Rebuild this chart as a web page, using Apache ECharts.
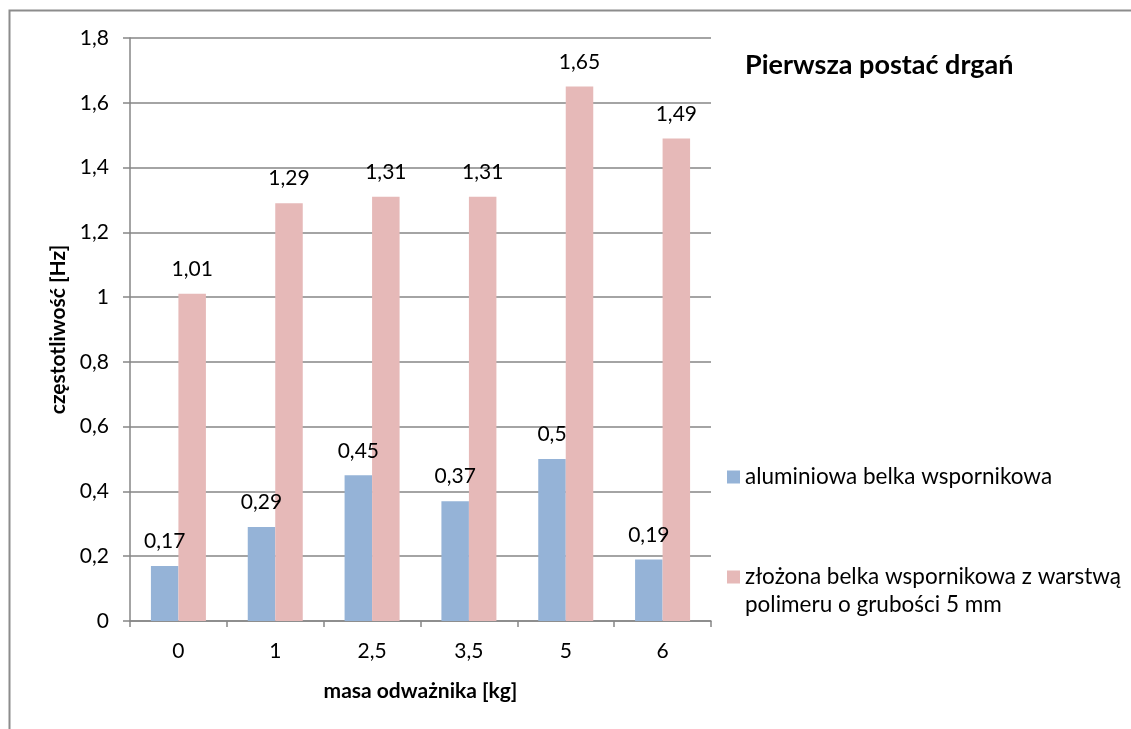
<!DOCTYPE html>
<html>
<head>
<meta charset="utf-8">
<script src="https://cdn.jsdelivr.net/npm/echarts@6/dist/echarts.min.js"></script>
<style>
html,body{margin:0;padding:0;background:#fff;}
#chart{width:1131px;height:729px;}
</style>
</head>
<body>
<div id="chart"></div>
<script>
const categories = ['0', '1', '2,5', '3,5', '5', '6'];
const seriesNames = ['aluminiowa belka wspornikowa', 'złożona belka wspornikowa z warstwą\npolimeru o grubości 5 mm'];
const aluminium = [0.17, 0.29, 0.45, 0.37, 0.5, 0.19];
const composite = [1.01, 1.29, 1.31, 1.31, 1.65, 1.49];
const titleText = 'Pierwsza postać drgań';
const xName = 'masa odważnika [kg]';
const yName = 'częstotliwość [Hz]';

const FONT = 'Lato';
const comma = v => String(v).replace('.', ',');

const chart = echarts.init(document.getElementById('chart'), null, {renderer: 'canvas'});
const labelCfg = {
  show: true, position: 'top', distance: 14,
  fontFamily: FONT, fontSize: 21, color: '#000',
  formatter: p => comma(p.value)
};
chart.setOption({
  animation: false,
  backgroundColor: '#fff',
  title: {
    text: titleText, left: 745, top: 52, padding: 0,
    textStyle: {fontFamily: FONT, fontSize: 27, fontWeight: 'bold', color: '#000'}
  },
  graphic: [{
    type: 'rect', left: 7, top: 8, silent: true,
    shape: {x: 0, y: 0, width: 1200, height: 800},
    style: {fill: 'none', stroke: '#8c8c8c', lineWidth: 2}
  }],
  legend: [{
    data: [seriesNames[0]],
    left: 727, top: 463, orient: 'vertical', padding: 0,
    itemWidth: 13, itemHeight: 13, icon: 'rect',
    textStyle: {fontFamily: FONT, fontSize: 22.5, color: '#000', lineHeight: 28}
  }, {
    data: [{name: seriesNames[1], icon: 'path://M0,0H13V13H0Z M0,41L13,41'}],
    left: 727, top: 563, orient: 'vertical', padding: 0,
    itemWidth: 13, itemHeight: 41,
    textStyle: {fontFamily: FONT, fontSize: 22.5, color: '#000', lineHeight: 28}
  }],
  grid: {left: 130, top: 38, width: 581, height: 583},
  xAxis: {
    type: 'category', data: categories,
    name: xName, nameLocation: 'middle', nameGap: 60,
    nameTextStyle: {fontFamily: FONT, fontSize: 21, fontWeight: 'bold', color: '#000'},
    axisLine: {lineStyle: {color: '#868686', width: 1.5}},
    axisTick: {show: true, length: 6, lineStyle: {color: '#868686', width: 1.5}},
    axisLabel: {fontFamily: FONT, fontSize: 21, color: '#000', margin: 20}
  },
  yAxis: {
    type: 'value', min: 0, max: 1.8, interval: 0.2,
    name: yName, nameLocation: 'middle', nameGap: 55, nameRotate: 90,
    nameTextStyle: {fontFamily: FONT, fontSize: 21, fontWeight: 'bold', color: '#000'},
    axisLine: {show: true, lineStyle: {color: '#868686', width: 1.5}},
    axisTick: {show: true, length: 7, lineStyle: {color: '#868686', width: 1.5}},
    axisLabel: {fontFamily: FONT, fontSize: 21, color: '#000', margin: 21,
      formatter: v => comma(Math.round(v * 10) / 10)},
    splitLine: {show: true, lineStyle: {color: '#868686', width: 1.5}}
  },
  series: [{
    name: seriesNames[0], type: 'bar', data: aluminium,
    barWidth: 27.5, barGap: '0%',
    itemStyle: {color: '#95B3D7'}, label: labelCfg
  }, {
    name: seriesNames[1], type: 'bar', data: composite,
    barWidth: 27.5, barGap: '0%',
    itemStyle: {color: '#E6B9B8'}, label: labelCfg
  }]
});
</script>
</body>
</html>
